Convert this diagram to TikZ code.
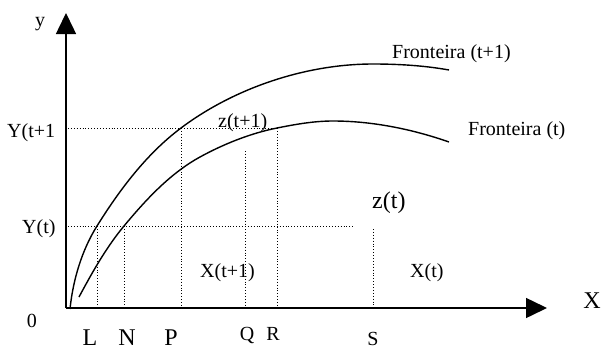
\documentclass[tikz,border=0pt]{standalone}
\usepackage{fontspec}
\setmainfont{Liberation Serif}
\usetikzlibrary{arrows.meta}
\begin{document}
\begin{tikzpicture}[x=1pt,y=-1pt,
  axis/.style={line width=1.5pt,-{Triangle[length=21pt,width=20pt]}},
  curve/.style={line width=1.4pt},
  guide/.style={line width=0.9pt,dotted},
  lbl/.style={inner sep=0pt,anchor=base,font=\fontsize{20}{24}\selectfont},
  biglbl/.style={inner sep=0pt,anchor=base,font=\fontsize{24}{28}\selectfont}]
\useasboundingbox (0,0) rectangle (605,351);
% axes
\coordinate (O) at (66,308);
\coordinate (ytip) at (66,13);
\coordinate (xtip) at (547,308);
\draw[axis] (O) -- (ytip);
\draw[axis] (O) -- (xtip);
% guide coordinates
\coordinate (Yt1a) at (68,128);
\coordinate (Yt1b) at (277,128);
\coordinate (Yta) at (68,226);
\coordinate (Ytb) at (353,226);
\coordinate (Ltop) at (97,226);  \coordinate (Lbot) at (97,308);
\coordinate (Ntop) at (124,226); \coordinate (Nbot) at (124,308);
\coordinate (Ptop) at (181,128); \coordinate (Pbot) at (181,308);
\coordinate (Qtop) at (245,151); \coordinate (Qbot) at (245,308);
\coordinate (Rtop) at (277,128); \coordinate (Rbot) at (277,308);
\coordinate (Stop) at (373,229); \coordinate (Sbot) at (373,308);
\draw[guide] (Yt1a) -- (Yt1b);
\draw[guide] (Yta) -- (Ytb);
\draw[guide] (Ltop) -- (Lbot);
\draw[guide] (Ntop) -- (Nbot);
\draw[guide] (Ptop) -- (Pbot);
\draw[guide] (Qtop) -- (Qbot);
\draw[guide] (Rtop) -- (Rbot);
\draw[guide] (Stop) -- (Sbot);
% frontier (t+1)
\draw[curve] (70,309) .. controls (73,280) and (81.7,250.5) .. (97,226)
  .. controls (119.8,189.5) and (146.6,153.8) .. (181,128)
  .. controls (234.6,87.8) and (306,64) .. (373,64)
  .. controls (398,64) and (424,65.5) .. (449,70);
% frontier (t)
\draw[curve] (79,297) .. controls (92.2,272.4) and (106.1,247.6) .. (124,226)
  .. controls (145.8,199.8) and (170.2,173.3) .. (200,157)
  .. controls (223.7,144) and (250.5,133.3) .. (277,128)
  .. controls (295.6,124.3) and (314,121) .. (333,121)
  .. controls (372,121) and (412.2,129.1) .. (449,142);
% labels
\node[lbl] (ly) at (40,26) {y};
\node[lbl,anchor=base west] (lYt1) at (7,137) {Y(t+1};
\node[lbl,anchor=base west] (lYt) at (22,233) {Y(t)};
\node[lbl] (l0) at (32,327) {0};
\node[biglbl] (lL) at (90,345) {L};
\node[biglbl] (lN) at (127,345) {N};
\node[biglbl] (lP) at (171,345) {P};
\node[lbl] (lQ) at (247,340) {Q};
\node[lbl] (lR) at (273,340) {R};
\node[lbl] (lS) at (373,345) {S};
\node[biglbl] (lX) at (592,308) {X};
\node[biglbl,anchor=base west] (lzt) at (372,208) {z(t)};
\node[lbl,anchor=base west] (lXt1) at (200,277) {X(t+1)};
\node[lbl,anchor=base west] (lXt) at (410,277) {X(t)};
\node[lbl,anchor=base west] (lzt1) at (218,127) {z(t+1)};
\node[lbl,anchor=base west] (lF1) at (392,58) {Fronteira (t+1)};
\node[lbl,anchor=base west] (lF) at (468,135) {Fronteira (t)};
\end{tikzpicture}
\end{document}
